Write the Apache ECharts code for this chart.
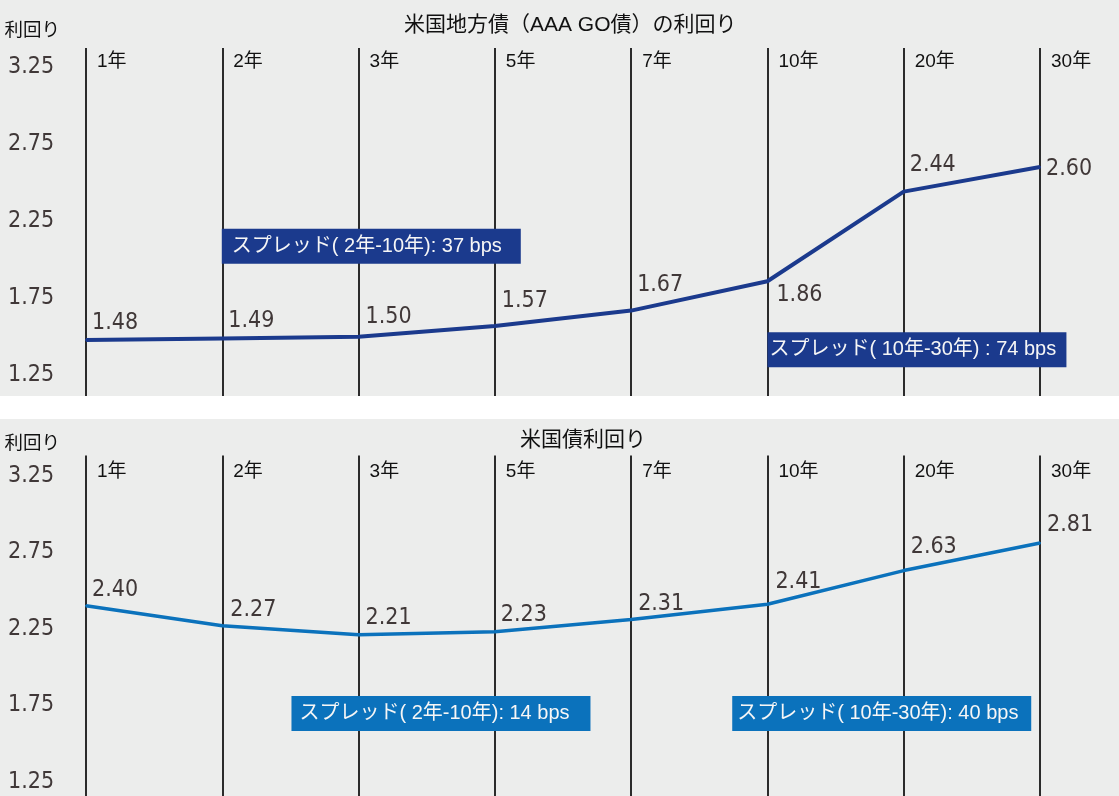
<!DOCTYPE html>
<html>
<head>
<meta charset="utf-8">
<title>米国地方債と米国債の利回り</title>
<script src="https://cdn.jsdelivr.net/npm/echarts@6.0.0/dist/echarts.min.js"></script>
<style>
  html, body { margin: 0; padding: 0; background: #fff; }
  #main { width: 1119px; height: 796px; }
</style>
</head>
<body>
<div id="main"></div>
<script>
// 年限
var tenors = ['1年', '2年', '3年', '5年', '7年', '10年', '20年', '30年'];
// 米国地方債（AAA GO債）
var muniYields = [1.48, 1.49, 1.50, 1.57, 1.67, 1.86, 2.44, 2.60];
// 米国債
var treasuryYields = [2.40, 2.27, 2.21, 2.23, 2.31, 2.41, 2.63, 2.81];
var yTicks = [1.25, 1.75, 2.25, 2.75, 3.25];
var muniSpreads = ['スプレッド( 2年-10年): 37 bps', 'スプレッド( 10年-30年) : 74 bps'];
var treasurySpreads = ['スプレッド( 2年-10年): 14 bps', 'スプレッド( 10年-30年): 40 bps'];

// 注記ボックスの置き場所 [年限, 利回り軸上の高さ, 横ずらし(px), 文字の左余白(px)]
var muniSpreadSpots = [['2年', 2.086, 149, 10], ['10年', 1.416, 149.5, 2]];
var treasurySpreadSpots = [['3年', 1.696, 82.4, 8], ['10年', 1.696, 114.3, 5]];

// 数値ラベルの位置調整 (px)
var muniLabelOffset = [[5, -17], [5, -17.5], [6, -20], [6, -24.5], [5, -25.5], [8, 14], [5, -26.5], [5, 2]];
var treasuryLabelOffset = [[5, -15.5], [7, -15.5], [6, -17], [5, -17], [6, -15.5], [7, -22], [6, -23.5], [6, -18]];

var numFont = '"DejaVu Sans Condensed", "DejaVu Sans", sans-serif';
var jpFont = '"Liberation Sans", "Noto Sans CJK JP", sans-serif';
var NAVY = '#1b3a8d';
var BLUE = '#0b72bc';
var PANEL = '#ecedec';

var myChart = echarts.init(document.getElementById('main'));

function xAxisFor(idx, labelMargin) {
    return {
        type: 'category',
        gridIndex: idx,
        data: tenors,
        position: 'top',
        boundaryGap: false,
        axisLine: {show: false},
        axisTick: {show: false},
        axisLabel: {
            inside: true,
            interval: 0,
            margin: labelMargin,
            align: 'left',
            padding: [0, 0, 0, 11],
            color: '#111',
            fontSize: 19,
            fontFamily: jpFont
        },
        splitLine: {show: true, interval: 0, lineStyle: {color: '#2b2b2b', width: 2}}
    };
}

function yAxisFor(idx, min, max, nameGap) {
    return {
        type: 'value',
        gridIndex: idx,
        min: min,
        max: max,
        name: '利回り',
        nameLocation: 'end',
        nameGap: nameGap,
        nameTextStyle: {align: 'right', padding: [0, 26, 0, 0], color: '#111', fontSize: 18.5, fontFamily: jpFont},
        axisLine: {show: false},
        axisTick: {show: false},
        splitLine: {show: false},
        axisLabel: {
            customValues: yTicks,
            align: 'left',
            margin: 78,
            padding: [8, 0, 0, 0],
            color: '#403838',
            fontSize: 23,
            fontFamily: numFont,
            formatter: function (v) { return v.toFixed(2); }
        }
    };
}

function spreadMarks(texts, spots, color) {
    return texts.map(function (t, i) {
        return {
            name: t,
            coord: [spots[i][0], spots[i][1]],
            symbol: 'rect',
            symbolSize: [299, 35],
            symbolOffset: [spots[i][2], 0],
            itemStyle: {color: color},
            label: {
                show: true,
                position: 'insideLeft',
                distance: spots[i][3],
                color: '#f6f6f6',
                fontSize: 20,
                fontFamily: jpFont,
                formatter: t
            }
        };
    });
}

function lineSeries(idx, values, offsets, color, width, texts, spots) {
    return {
        type: 'line',
        xAxisIndex: idx,
        yAxisIndex: idx,
        data: values.map(function (v, i) {
            return {value: v, label: {offset: offsets[i]}};
        }),
        symbol: 'circle',
        symbolSize: 2,
        itemStyle: {color: color},
        lineStyle: {color: color, width: width},
        label: {
            show: true,
            position: 'right',
            distance: 0,
            color: '#403838',
            fontSize: 23,
            fontFamily: numFont,
            formatter: function (p) { return p.value.toFixed(2); }
        },
        markPoint: {
            silent: true,
            data: spreadMarks(texts, spots, color)
        },
        silent: true
    };
}

var option = {
    animation: false,
    backgroundColor: '#fff',
    graphic: [
        {type: 'rect', z: -10, silent: true, shape: {x: 0, y: 0, width: 1119, height: 396}, style: {fill: PANEL}},
        {type: 'rect', z: -10, silent: true, shape: {x: 0, y: 419, width: 1119, height: 377}, style: {fill: PANEL}}
    ],
    title: [
        {
            text: '米国地方債（AAA GO債）の利回り',
            left: 404, top: 15, padding: 0,
            textStyle: {fontSize: 21, fontWeight: 'normal', color: '#111', fontFamily: jpFont}
        },
        {
            text: '米国債利回り',
            left: 520, top: 430, padding: 0,
            textStyle: {fontSize: 21, fontWeight: 'normal', color: '#111', fontFamily: jpFont}
        }
    ],
    grid: [
        {left: 86, right: 79, top: 48, height: 348},
        {left: 86, right: 79, top: 455.5, bottom: 0}
    ],
    xAxis: [xAxisFor(0, 4), xAxisFor(1, 7)],
    yAxis: [yAxisFor(0, 1.117, 3.370, 8), yAxisFor(1, 1.157, 3.382, 2)],
    series: [
        lineSeries(0, muniYields, muniLabelOffset, NAVY, 4, muniSpreads, muniSpreadSpots),
        lineSeries(1, treasuryYields, treasuryLabelOffset, BLUE, 3.5, treasurySpreads, treasurySpreadSpots)
    ]
};

myChart.setOption(option);
</script>
</body>
</html>
